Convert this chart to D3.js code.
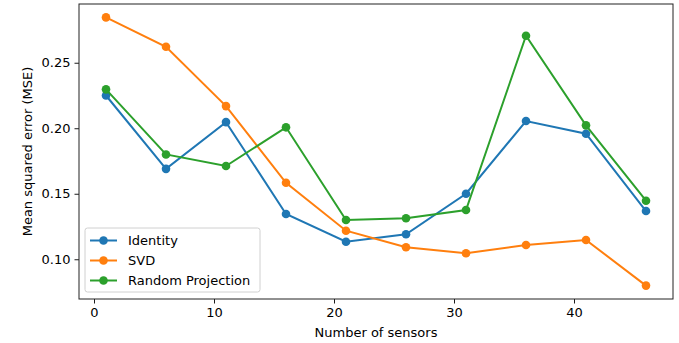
<!DOCTYPE html>
<html>
<head>
<meta charset="utf-8">
<script src="https://cdn.jsdelivr.net/npm/d3@7"></script>
<style>
  body { margin: 0; background: #fff; }
  text { font-family: "DejaVu Sans", sans-serif; fill: #000; }
</style>
</head>
<body>
<div id="chart"></div>
<script>
// data
var sensors = [1, 6, 11, 16, 21, 26, 31, 36, 41, 46];
var identity = [0.225, 0.169, 0.2047, 0.1346, 0.1134, 0.1191, 0.150, 0.2055, 0.1958, 0.1368];
var svd = [0.2846, 0.2622, 0.2169, 0.1584, 0.1218, 0.1092, 0.1046, 0.1109, 0.1147, 0.0799];
var randomProj = [0.2297, 0.1800, 0.1712, 0.2007, 0.1300, 0.1313, 0.1376, 0.2706, 0.2022, 0.1447];
var seriesNames = ["Identity", "SVD", "Random Projection"];
var xTicks = [0, 10, 20, 30, 40];
var yTicks = [0.10, 0.15, 0.20, 0.25];

var colors = ["#1f77b4", "#ff7f0e", "#2ca02c"];
var allSeries = [identity, svd, randomProj];

var width = 679, height = 343;
var margin = { left: 79, right: 6, top: 4, bottom: 44 };

var svg = d3.select("#chart").append("svg")
    .attr("width", width)
    .attr("height", height);

// matplotlib-like 5% margins
var xmin = d3.min(sensors), xmax = d3.max(sensors);
var xpad = (xmax - xmin) * 0.05;
var allY = d3.merge(allSeries);
var ymin = d3.min(allY), ymax = d3.max(allY);
var ypad = (ymax - ymin) * 0.05;

var x = d3.scaleLinear()
    .domain([xmin - xpad, xmax + xpad])
    .range([margin.left, width - margin.right]);
var y = d3.scaleLinear()
    .domain([ymin - ypad, ymax + ypad])
    .range([height - margin.bottom, margin.top]);

var xAxis = svg.append("g")
    .attr("transform", "translate(0," + (height - margin.bottom) + ")")
    .call(d3.axisBottom(x).tickValues(xTicks).tickSize(4.5).tickPadding(4).tickFormat(d3.format("d")));
var yAxis = svg.append("g")
    .attr("transform", "translate(" + margin.left + ",0)")
    .call(d3.axisLeft(y).tickValues(yTicks).tickSize(4.5).tickPadding(4).tickFormat(d3.format(".2f")));

[xAxis, yAxis].forEach(function (g) {
    g.select(".domain").remove();
    g.selectAll("line").attr("stroke", "#000").attr("stroke-width", 0.9);
    g.selectAll("text").style("font-size", "13px").style("font-family", "DejaVu Sans").attr("fill", "#222");
});

// frame
svg.append("rect")
    .attr("x", margin.left)
    .attr("y", margin.top)
    .attr("width", width - margin.left - margin.right)
    .attr("height", height - margin.top - margin.bottom)
    .attr("fill", "none")
    .attr("stroke", "#222")
    .attr("stroke-width", 1);

var line = d3.line()
    .x(function (d, i) { return x(sensors[i]); })
    .y(function (d) { return y(d); });

allSeries.forEach(function (vals, k) {
    var g = svg.append("g");
    g.append("path")
        .datum(vals)
        .attr("d", line)
        .attr("fill", "none")
        .attr("stroke", colors[k])
        .attr("stroke-width", 2);
    g.selectAll("circle")
        .data(vals)
        .enter().append("circle")
        .attr("cx", function (d, i) { return x(sensors[i]); })
        .attr("cy", function (d) { return y(d); })
        .attr("r", 4.3)
        .attr("fill", colors[k]);
});

// axis labels
svg.append("text")
    .attr("x", (margin.left + width - margin.right) / 2)
    .attr("y", 337)
    .attr("text-anchor", "middle")
    .style("font-size", "13px")
    .text("Number of sensors");
svg.append("text")
    .attr("transform", "translate(32," + ((margin.top + height - margin.bottom) / 2) + ") rotate(-90)")
    .attr("text-anchor", "middle")
    .style("font-size", "13px")
    .text("Mean squared error (MSE)");

// legend
var legend = svg.append("g").attr("transform", "translate(85,228)");
legend.append("rect")
    .attr("width", 175)
    .attr("height", 64)
    .attr("rx", 2.5)
    .attr("fill", "#fff")
    .attr("fill-opacity", 0.8)
    .attr("stroke", "#d0d0d0")
    .attr("stroke-width", 1);
seriesNames.forEach(function (name, k) {
    var ly = 12.5 + k * 20;
    legend.append("line")
        .attr("x1", 5).attr("x2", 32)
        .attr("y1", ly).attr("y2", ly)
        .attr("stroke", colors[k]).attr("stroke-width", 2);
    legend.append("circle")
        .attr("cx", 18.5).attr("cy", ly).attr("r", 4.3)
        .attr("fill", colors[k]);
    legend.append("text")
        .attr("x", 43).attr("y", ly + 4.5)
        .style("font-size", "13px")
        .text(name);
});
</script>
</body>
</html>
